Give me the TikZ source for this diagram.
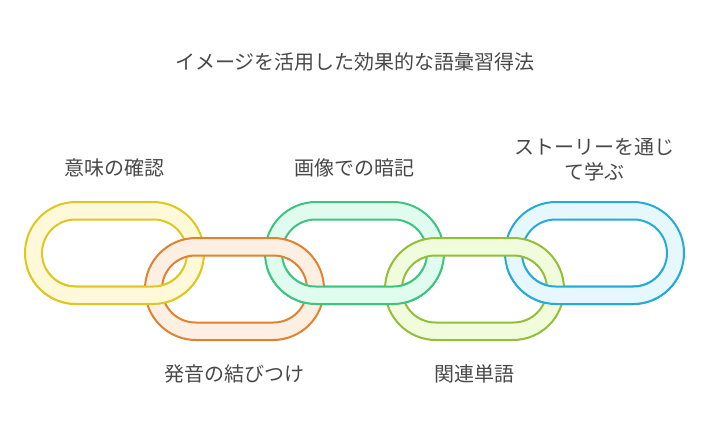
\documentclass[tikz,border=0pt]{standalone}
\usepackage{fontspec}
\setmainfont{Noto Sans CJK JP}
\usetikzlibrary{positioning}
\definecolor{yellowline}{HTML}{DEC81F}
\definecolor{yellowfill}{HTML}{FFF9DA}
\definecolor{orangeline}{HTML}{E0822F}
\definecolor{orangefill}{HTML}{FDEFE2}
\definecolor{greenline}{HTML}{3CC480}
\definecolor{greenfill}{HTML}{E0FCEF}
\definecolor{limeline}{HTML}{93BF38}
\definecolor{limefill}{HTML}{F1FCDC}
\definecolor{blueline}{HTML}{24ABDA}
\definecolor{bluefill}{HTML}{E6F8FE}
\definecolor{labelcolor}{HTML}{484848}

\begin{document}
\begin{tikzpicture}[
	x=1pt, y=-1pt,
	linkband/.style={line width=2pt, even odd rule},
	every node/.style={inner sep=0pt, outer sep=0pt, text=labelcolor,
		align=center, font=\fontsize{20}{25}\selectfont},
]
\useasboundingbox (0,0) rectangle (710,434);
% Input 1: centre coordinate. Input 2: colour prefix.
\def\chainlink#1#2{
	\path[linkband, draw=#2line, fill=#2fill, shift={(#1)}]
		[rounded corners=51pt] (-89.5,-51) rectangle (89.5,51)
		[rounded corners=33.5pt] (-72.5,-33.5) rectangle (72.5,33.5);
}
	\coordinate (meaning) at (114.5,253);
	\coordinate (sound) at (234.5,289);
	\coordinate (image) at (354.5,253);
	\coordinate (related) at (474.5,289);
	\coordinate (story) at (594.5,253);

	\chainlink{meaning}{yellow}
	\chainlink{image}{green}
	\chainlink{story}{blue}
	\chainlink{sound}{orange}
	\chainlink{related}{lime}
	% Upper links pass over the lower ones along their bottom band.
	\begin{scope}
		\clip (0,268) rectangle (710,312);
		\chainlink{meaning}{yellow}
		\chainlink{image}{green}
		\chainlink{story}{blue}
	\end{scope}

	\node (title) at (355,62) {イメージを活用した効果的な語彙習得法};
	\node (meaninglbl) at (114.5,168) {意味の確認};
	\node (imagelbl) at (354.5,168) {画像での暗記};
	\node[anchor=south] (storylbl) at (594.5,181) {ストーリーを通じ\\て学ぶ};
	\node (soundlbl) at (234.5,374) {発音の結びつけ};
	\node (relatedlbl) at (474.5,374) {関連単語};
\end{tikzpicture}
\end{document}
